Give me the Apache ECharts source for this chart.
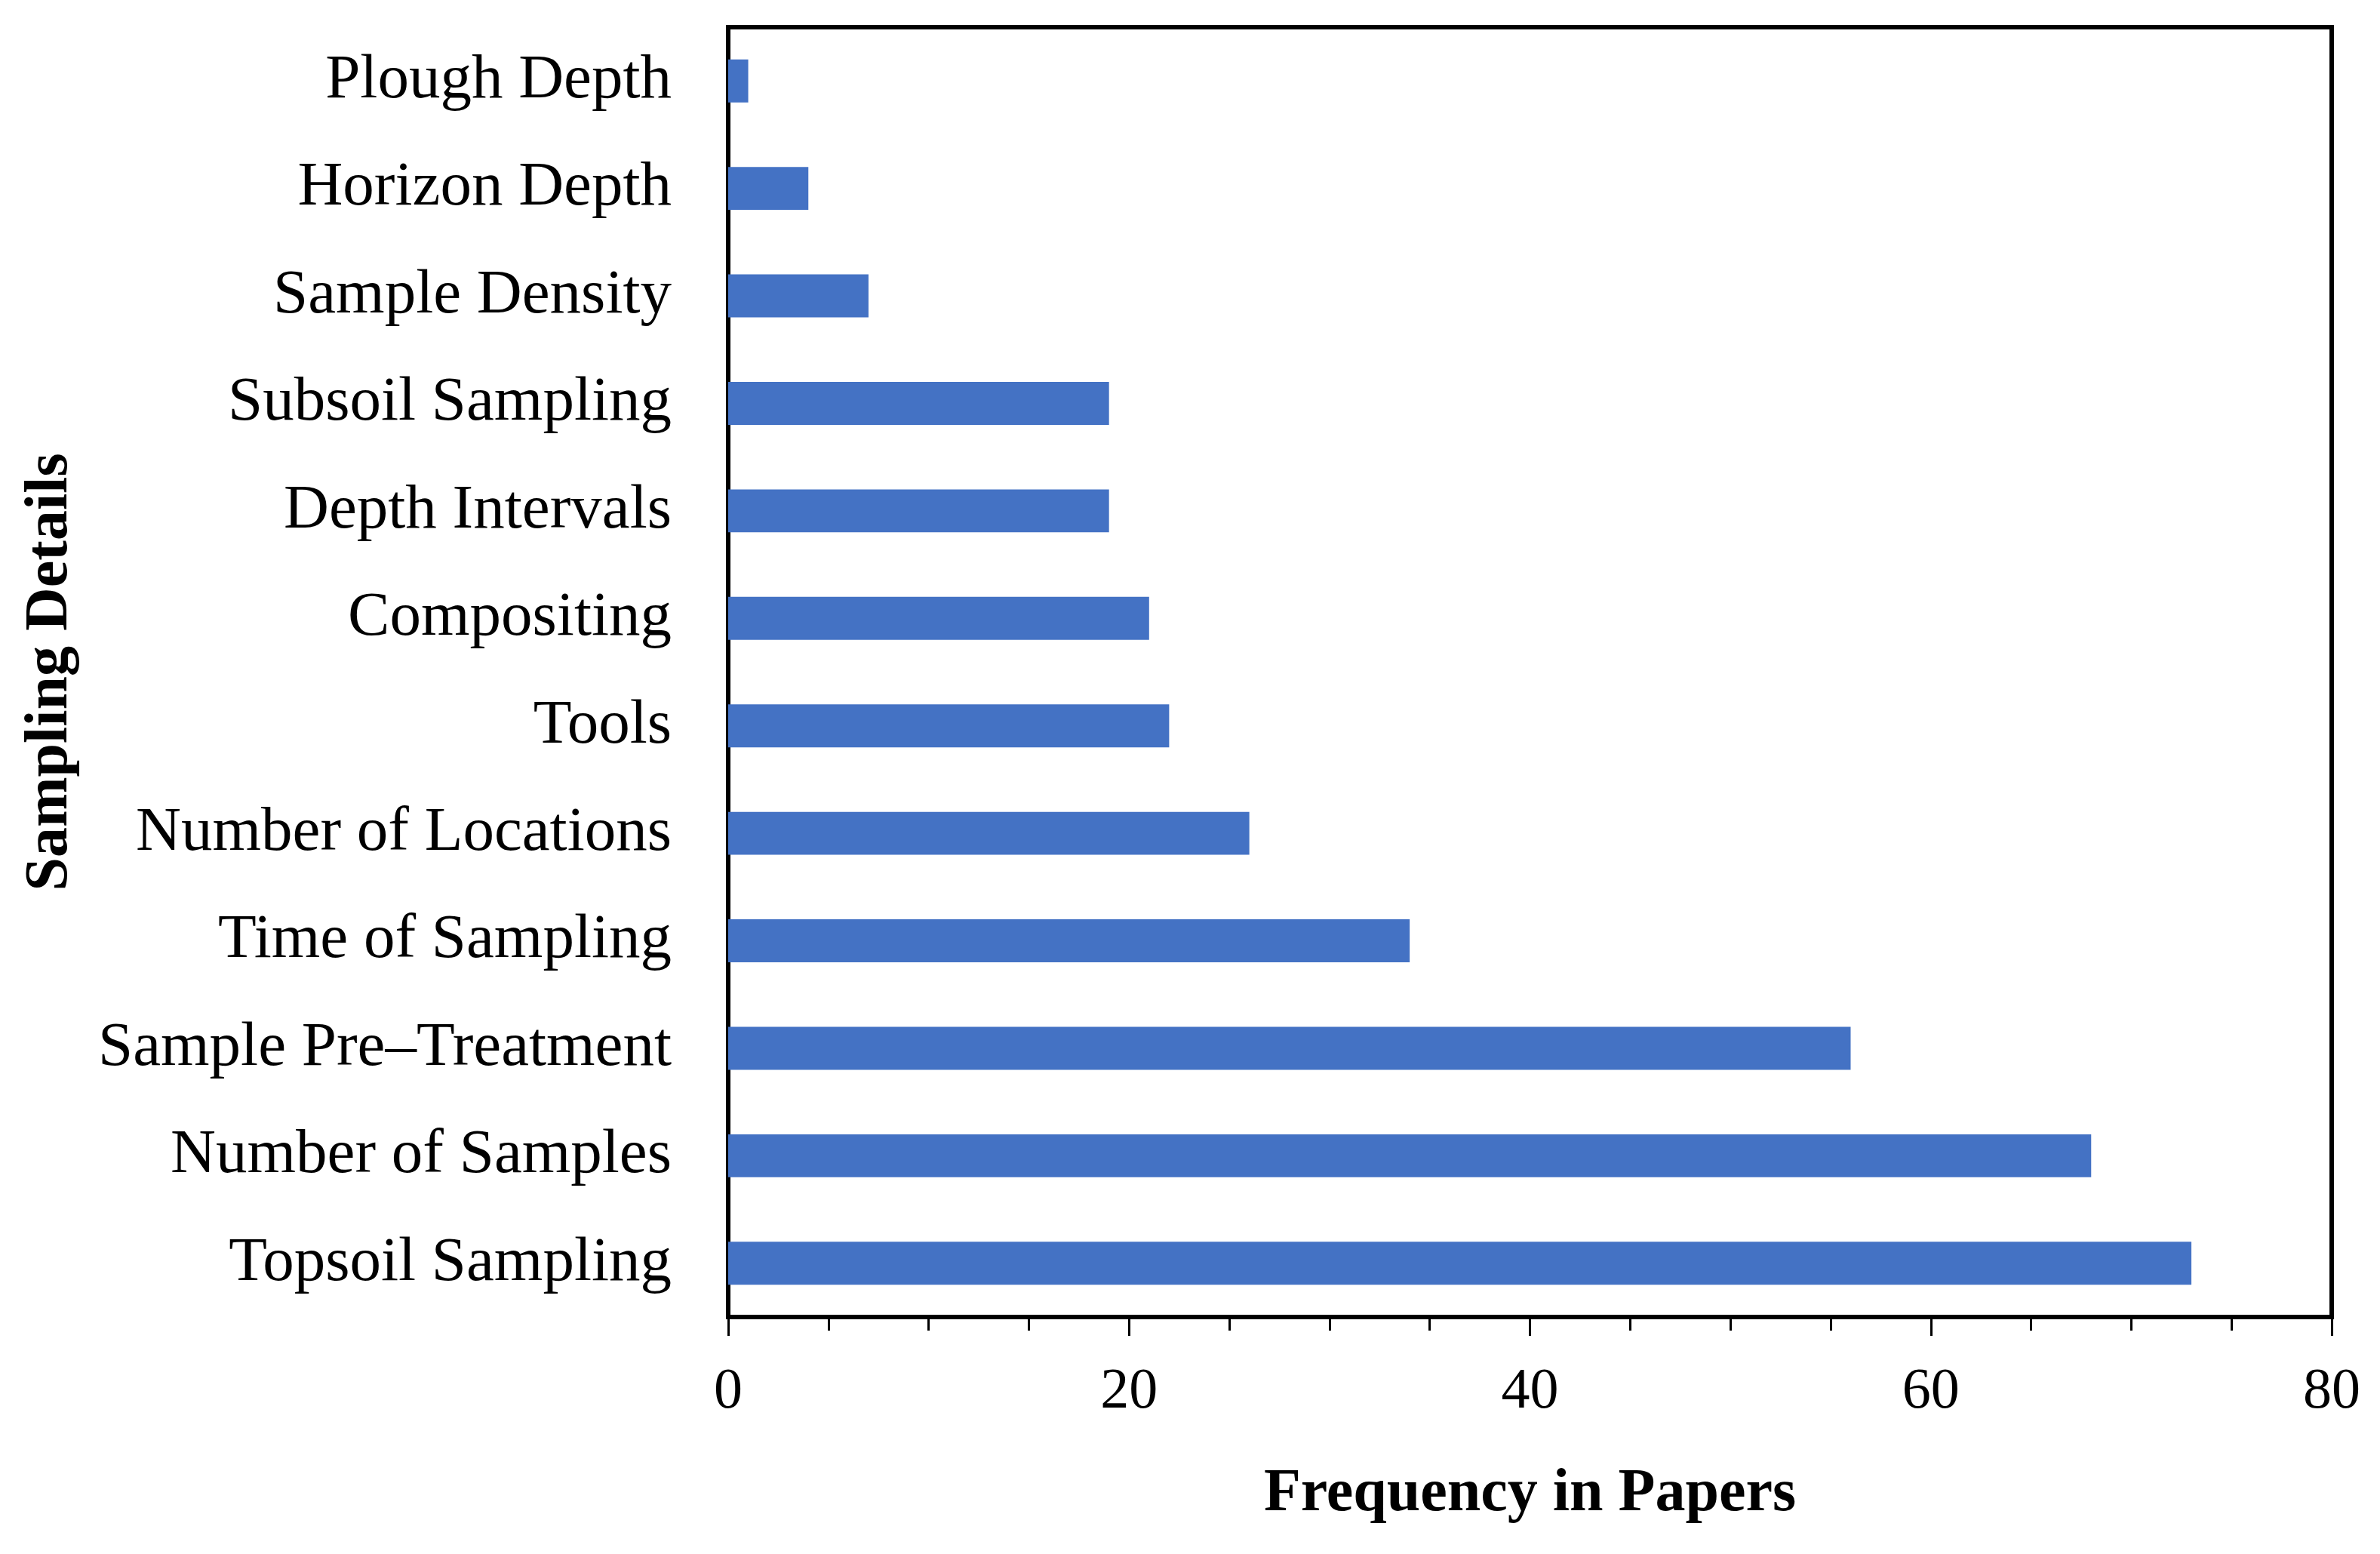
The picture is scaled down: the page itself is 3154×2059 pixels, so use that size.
<!DOCTYPE html>
<html>
<head>
<meta charset="utf-8">
<script src="https://cdn.jsdelivr.net/npm/echarts@6/dist/echarts.min.js"></script>
<style>html,body{margin:0;padding:0;background:#fff}#c{width:3154px;height:2059px}</style>
</head>
<body>
<div id="c"></div>
<script>
const categories = ["Plough Depth","Horizon Depth","Sample Density","Subsoil Sampling","Depth Intervals","Compositing","Tools","Number of Locations","Time of Sampling","Sample Pre\u2013Treatment","Number of Samples","Topsoil Sampling"];
const frequency = [1,4,7,19,19,21,22,26,34,56,68,73];
const xTicks = {min:0, max:80, interval:20};

const font = "'Liberation Serif', 'Times New Roman', serif";
const chart = echarts.init(document.getElementById('c'), null, {renderer:'canvas'});
chart.setOption({
  animation:false,
  backgroundColor:'#fff',
  grid:{left:965,right:64,top:36,bottom:314,show:true,borderColor:'#000',borderWidth:6,backgroundColor:'transparent'},
  xAxis:{
    type:'value', min:xTicks.min, max:xTicks.max, interval:xTicks.interval,
    name:'Frequency in Papers', nameLocation:'middle', nameGap:195,
    nameTextStyle:{fontFamily:font,fontSize:80,fontWeight:'bold',color:'#000'},
    axisLine:{show:true,lineStyle:{color:'#000',width:6}},
    axisTick:{show:true,length:25,lineStyle:{color:'#000',width:3}},
    minorTick:{show:true,splitNumber:4,length:18,lineStyle:{color:'#000',width:3}},
    splitLine:{show:false},
    axisLabel:{fontFamily:font,fontSize:76,color:'#000',margin:62}
  },
  yAxis:{
    type:'category', data:categories, inverse:true,
    name:'Sampling Details', nameLocation:'middle', nameGap:858, nameRotate:90,
    nameTextStyle:{fontFamily:font,fontSize:80,fontWeight:'bold',color:'#000'},
    axisLine:{show:true,lineStyle:{color:'#000',width:6}},
    axisTick:{show:false},
    splitLine:{show:false},
    axisLabel:{fontFamily:font,fontSize:83,color:'#000',margin:75}
  },
  series:[{type:'bar',data:frequency,barWidth:'40%',itemStyle:{color:'#4472C4'}}]
});
</script>
</body>
</html>
